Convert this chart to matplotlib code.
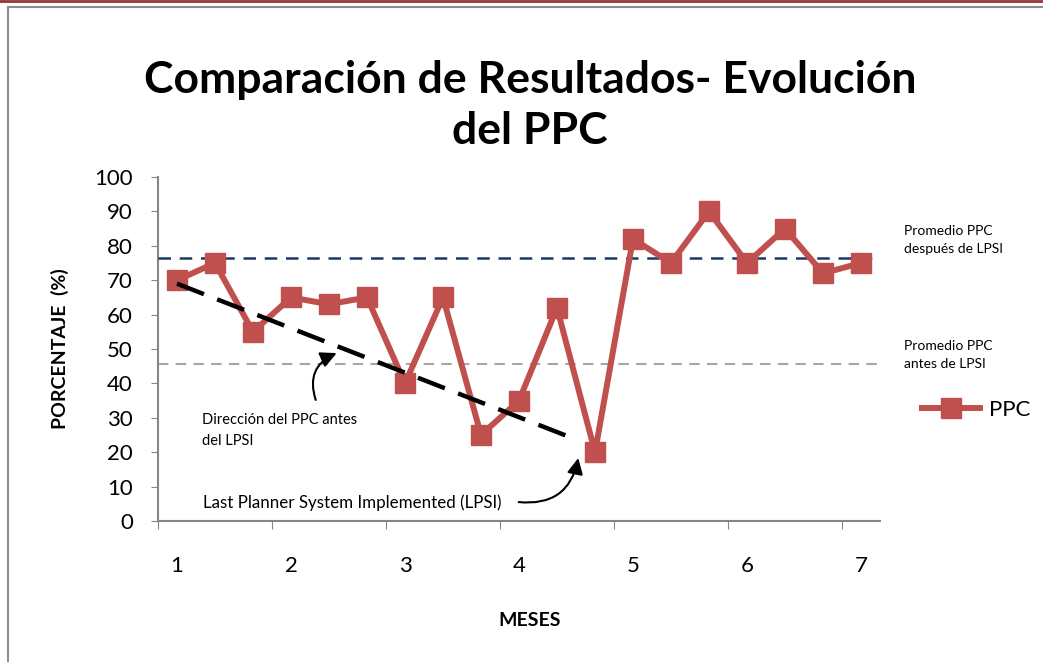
import numpy as np
import matplotlib.pyplot as plt
from matplotlib.lines import Line2D

# datos
meses = ['1', '2', '3', '4', '5', '6', '7']
ppc = [70, 75, 55, 65, 63, 65, 40, 65, 25, 35, 62, 20,
       82, 75, 90, 75, 85, 72, 75]
prom_despues = 76.5
prom_antes = 45.5
tendencia_x = [0, 10.43]
tendencia_y = [69, 24]

plt.rcParams['font.family'] = ['Lato', 'DejaVu Sans']

W, H = 1043, 662
fig = plt.figure(figsize=(W / 100, H / 100), dpi=100)

def fx(px):
    return px / W

def fy(py):
    return 1 - py / H

ax = fig.add_axes([fx(158), fy(521), fx(880) - fx(158), fy(177) - fy(521)])

x = np.arange(len(ppc))
rojo = '#C0504D'
ax.plot(x, ppc, color=rojo, lw=4.3, marker='s', markersize=14,
        markeredgecolor=rojo, label='PPC', zorder=4)

ax.axhline(prom_despues, color='#1F3864', lw=1.8, dashes=(5, 3.5), zorder=3)
ax.axhline(prom_antes, color='#A6A6A6', lw=1.5, dashes=(5, 3.5), zorder=2)
ax.plot(tendencia_x, tendencia_y, color='black', lw=3.2, dashes=(6.5, 3.2), zorder=5)

ax.set_xlim(-0.5, len(ppc) - 0.5)
ax.set_ylim(0, 100)
ax.set_yticks(range(0, 101, 10))
ax.tick_params(axis='y', labelsize=16, length=5, color='#868686', pad=13)

# marcas en los limites de categoria, etiquetas cada 3 puntos
ax.set_xticks(np.arange(-0.5, len(ppc), 3))
ax.set_xticklabels([])
ax.set_xticks(np.arange(0, len(ppc), 3), minor=True)
ax.set_xticklabels(meses, minor=True)
ax.tick_params(axis='x', which='major', length=6, color='#868686')
ax.tick_params(axis='x', which='minor', length=0, labelsize=16, pad=25)

for s in ['top', 'right']:
    ax.spines[s].set_visible(False)
for s in ['left', 'bottom']:
    ax.spines[s].set_color('#868686')
    ax.spines[s].set_linewidth(1.5)

# anotaciones
ax.text(0.66, 26.3, 'Dirección del PPC antes\ndel LPSI', fontsize=10.5,
        va='center', ha='left', linespacing=1.6)
ax.text(0.68, 5.2, 'Last Planner System Implemented (LPSI)', fontsize=12.2,
        va='center', ha='left')
flecha = dict(arrowstyle='-|>', color='black', lw=1.5, mutation_scale=24,
              shrinkA=0, shrinkB=0)
ax.annotate('', xy=(4.2, 48.8), xytext=(3.65, 35.2),
            arrowprops=dict(flecha, connectionstyle='arc3,rad=-0.45'))
ax.annotate('', xy=(10.56, 18.3), xytext=(8.99, 5.5),
            arrowprops=dict(flecha, connectionstyle='arc3,rad=0.45'))

fig.text(fx(904), fy(240), 'Promedio PPC\ndespués de LPSI', fontsize=10,
         va='center', ha='left', linespacing=1.6)
fig.text(fx(904), fy(355), 'Promedio PPC\nantes de LPSI', fontsize=10,
         va='center', ha='left', linespacing=1.6)

ax.legend(loc='center left', bbox_to_anchor=(fx(902), fy(410)),
          bbox_transform=fig.transFigure, frameon=False, fontsize=16,
          handlelength=2.6, handletextpad=0.4)

fig.text(fx(530), fy(80), 'Comparación de Resultados- Evolución',
         fontsize=32, fontweight='bold', ha='center', va='center')
fig.text(fx(530), fy(131), 'del PPC',
         fontsize=32, fontweight='bold', ha='center', va='center')
fig.text(fx(60), fy(349), 'PORCENTAJE  (%)', fontsize=14, fontweight='bold',
         rotation=90, ha='center', va='center')
fig.text(fx(530), fy(620), 'MESES', fontsize=14, fontweight='bold',
         ha='center', va='center')

# marco
fig.add_artist(Line2D([0, 1], [fy(1), fy(1)], color='#943634', lw=2))
fig.add_artist(Line2D([fx(8), 1], [fy(7), fy(7)], color='#8C8C8C', lw=1.5))
fig.add_artist(Line2D([fx(8), fx(8)], [fy(7), 0], color='#8C8C8C', lw=1.5))

fig.savefig('out.png', dpi=100)
